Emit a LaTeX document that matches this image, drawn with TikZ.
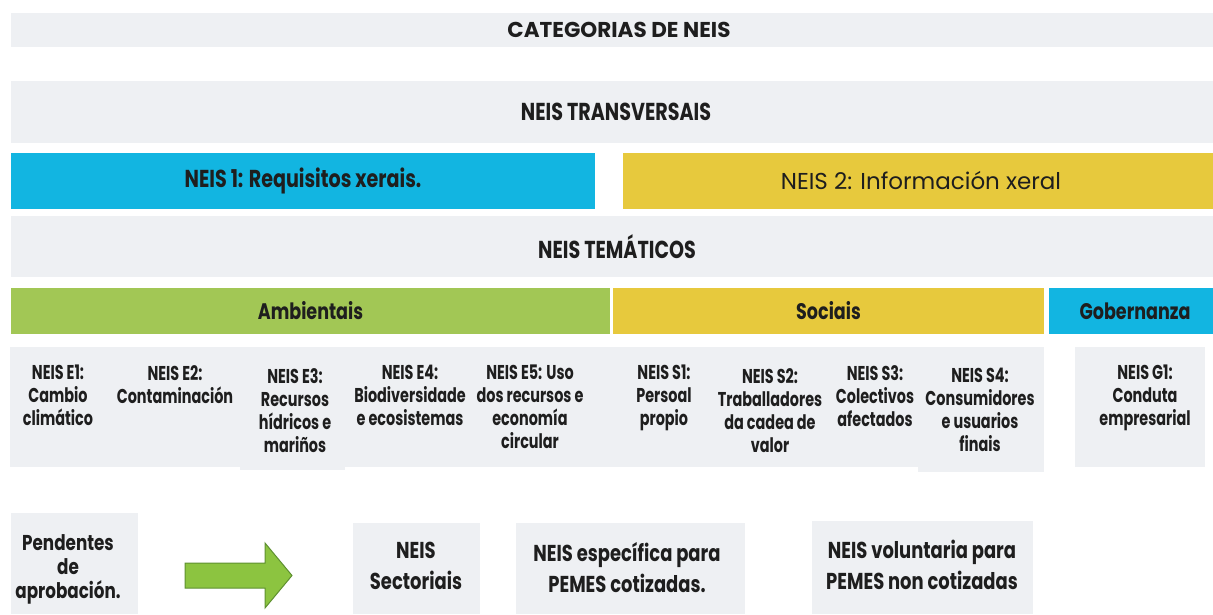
\documentclass[tikz,border=0pt]{standalone}
\usepackage{fontspec}
\setmainfont{Poppins}
\newfontfamily\condfont[FakeStretch=0.78]{Poppins}
\newfontfamily\narrowfont[FakeStretch=0.72]{Poppins}
\newfontfamily\widefont[FakeStretch=1.0]{Poppins}
\definecolor{boxgray}{HTML}{EEF0F3}
\definecolor{nblue}{HTML}{12B5E1}
\definecolor{nyellow}{HTML}{E7C93D}
\definecolor{ngreen}{HTML}{A2C755}
\definecolor{arrowfill}{HTML}{8CC440}
\definecolor{arrowline}{HTML}{5E9030}
\definecolor{ink}{HTML}{1E1E1E}
\begin{document}
\begin{tikzpicture}[x=1pt,y=-1pt,
  band/.style={fill=#1, inner sep=0pt, outer sep=0pt, text=ink, align=center},
  hfont/.style={font=\condfont\bfseries\fontsize{24.5}{28}\selectfont},
  cfont/.style={font=\condfont\bfseries\fontsize{22.5}{26}\selectfont},
  sbox/.style={fill=boxgray, inner sep=0pt, outer sep=0pt},
  stext/.style={anchor=north, inner sep=0pt, align=center, text=ink,
    font=\narrowfont\bfseries\fontsize{20}{23}\selectfont},
  btext/.style={anchor=north, inner sep=0pt, align=center, text=ink,
    font=\condfont\bfseries\fontsize{23}{31}\selectfont},
]
\useasboundingbox (0,0) rectangle (1213,614);
% top bands
\node[band=boxgray, minimum width=1202, minimum height=34,
  font=\widefont\bfseries\fontsize{21.5}{24}\selectfont] (title) at (612,30) {\hspace*{14pt}CATEGORIAS DE NEIS};
\node[band=boxgray, minimum width=1202, minimum height=62, hfont] (trans) at (612,112) {\hspace*{8pt}NEIS TRANSVERSAIS};
\node[band=nblue, minimum width=584, minimum height=56, hfont] (neis1) at (303,181) {NEIS 1: Requisitos xerais.};
\node[band=nyellow, minimum width=590, minimum height=56,
  font=\widefont\fontsize{23}{28}\selectfont] (neis2) at (918,181) {\hspace*{6pt}NEIS 2: Información xeral};
\node[band=boxgray, minimum width=1202, minimum height=61, hfont] (tema) at (612,246.5) {\hspace*{10pt}NEIS TEMÁTICOS};
% category bands
\node[band=ngreen, minimum width=599, minimum height=46, cfont] (amb) at (310.5,311) {Ambientais};
\node[band=nyellow, minimum width=431, minimum height=46, cfont] (soc) at (828.5,311) {Sociais};
\node[band=nblue, minimum width=164, minimum height=46, cfont] (gob) at (1131,311) {\hspace*{8pt}Gobernanza};
% standard boxes
\node[sbox, minimum width=108, minimum height=120] (e1b) at (64,407) {};
\node[sbox, minimum width=122, minimum height=120] (e2b) at (179,407) {};
\node[sbox, minimum width=105, minimum height=123] (e3b) at (292.5,408.5) {};
\node[sbox, minimum width=127, minimum height=120] (e4b) at (408.5,407) {};
\node[sbox, minimum width=128, minimum height=120] (e5b) at (536,407) {};
\node[sbox, minimum width=112, minimum height=120] (s1b) at (656,407) {};
\node[sbox, minimum width=111, minimum height=120] (s2b) at (767.5,407) {};
\node[sbox, minimum width=95, minimum height=120] (s3b) at (870.5,407) {};
\node[sbox, minimum width=126, minimum height=125] (s4b) at (981,409.5) {};
\node[sbox, minimum width=130, minimum height=120] (g1b) at (1140,407) {};
\node[stext] (e1) at (58,365) {NEIS E1:\\Cambio\\climático};
\node[stext] (e2) at (175,365) {NEIS E2:\\Contaminación};
\node[stext] (e3) at (295,368) {NEIS E3:\\Recursos\\hídricos e\\mariños};
\node[stext] (e4) at (410,365) {NEIS E4:\\Biodiversidade\\e ecosistemas};
\node[stext] (e5) at (530,365) {NEIS E5: Uso\\dos recursos e\\economía\\circular};
\node[stext] (s1) at (664,365) {NEIS S1:\\Persoal\\propio};
\node[stext] (s2) at (770,368) {NEIS S2:\\Traballadores\\da cadea de\\valor};
\node[stext] (s3) at (875,365) {NEIS S3:\\Colectivos\\afectados};
\node[stext] (s4) at (980,368) {NEIS S4:\\Consumidores\\e usuarios\\finais};
\node[stext] (g1) at (1145,365) {NEIS G1:\\Conduta\\empresarial};
% bottom row
\node[sbox, minimum width=127, minimum height=101] (pendb) at (74.5,563.5) {};
\node[btext, font=\condfont\bfseries\fontsize{21.5}{24}\selectfont] (pend) at (68,534) {Pendentes\\de\\aprobación.};
\draw[fill=arrowfill, draw=arrowline, line width=1pt, line join=miter]
  (185,563) -- (265,563) -- (265,543) -- (292,575.5) -- (265,608) -- (265,588) -- (185,588) -- cycle;
\node[sbox, minimum width=127, minimum height=91] (sectb) at (416.5,568.5) {};
\node[btext] (sect) at (416,542) {NEIS\\Sectoriais};
\node[sbox, minimum width=229, minimum height=91] (espb) at (630.5,568.5) {};
\node[btext] (esp) at (627,542) {NEIS específica para\\PEMES cotizadas.};
\node[sbox, minimum width=221, minimum height=93] (volb) at (922.5,567.5) {};
\node[btext] (vol) at (922,540) {NEIS voluntaria para\\PEMES non cotizadas};
\end{tikzpicture}
\end{document}
